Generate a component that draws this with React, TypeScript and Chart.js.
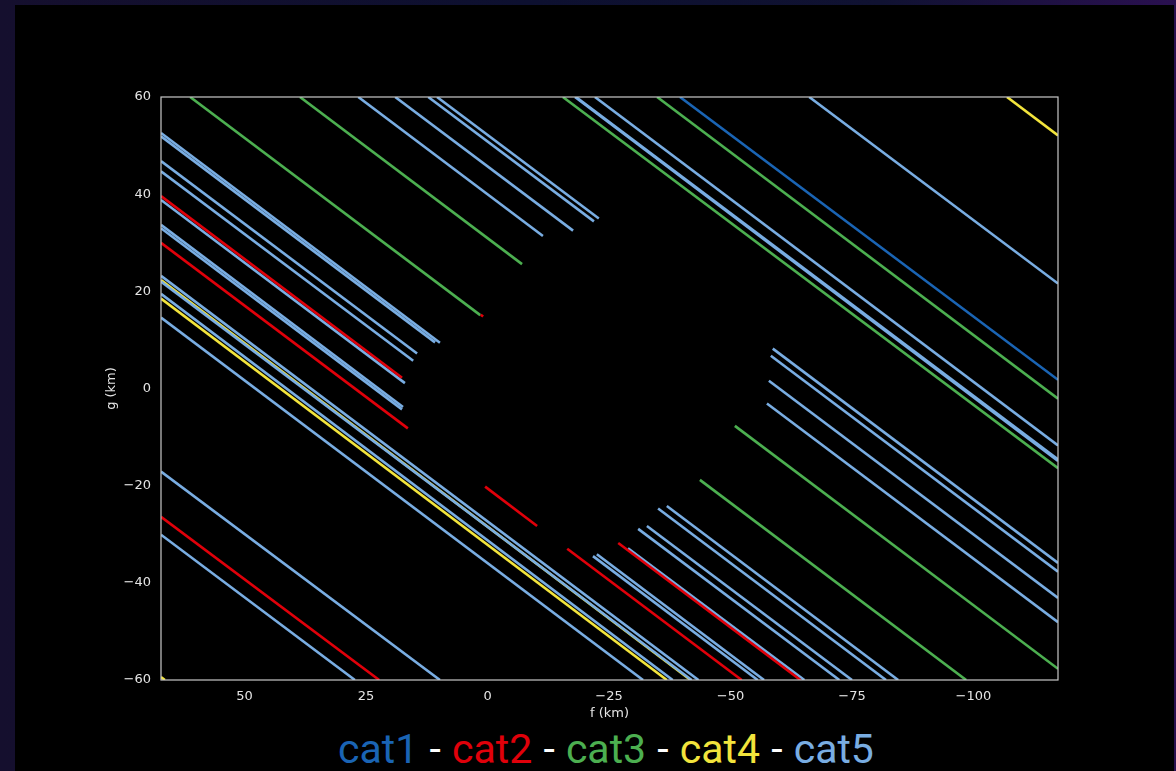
import React, { useEffect, useRef } from "react";
import { Chart, registerables } from "chart.js";

Chart.register(...registerables);

// ---------- data ----------
const categories = ["cat1", "cat2", "cat3", "cat4", "cat5"];
const categoryColors = ["#1a64b4", "#e0000a", "#4caf50", "#f2e43c", "#79ade2"];

const xTicks = [50, 25, 0, -25, -50, -75, -100];
const yTicks = [-60, -40, -20, 0, 20, 40, 60];

// each segment: [f1, g1, f2, g2]  (km)
const cat1Segments = [
  [-39.6, 60, -117.4, 1.8],
];

const cat2Segments = [
  [67.2, 39.6, 17.6, 2.2],
  [67.2, 30.0, 16.4, -8.2],
  [67.2, -26.4, 22.3, -60],
  [0.5, -20.2, -10.2, -28.3],
  [-16.4, -33.0, -52.3, -60],
  [-26.9, -31.8, -64.4, -60],
  [1.4, 15.2, 0.9, 14.8],
];

const cat3Segments = [
  [61.2, 60, 1.5, 15.1],
  [38.6, 60, -7.1, 25.6],
  [-15.5, 60, -117.4, -16.4],
  [-34.9, 60, -117.4, -2.1],
  [-43.7, -18.8, -98.5, -60],
  [-50.9, -7.7, -117.4, -57.7],
];

const cat4Segments = [
  [-106.9, 60, -117.4, 52.1],
  [67.2, 18.5, -36.9, -60],
  [67.2, 22.3, -41.8, -60],
  [67.2, -59.4, 66.4, -60],
];

const cat5Segments = [
  [67.2, 52.6, 9.8, 9.4],
  [67.2, 51.9, 10.8, 9.5],
  [67.2, 46.8, 14.5, 7.2],
  [67.2, 44.7, 15.3, 5.7],
  [67.2, 38.8, 17.0, 1.1],
  [67.2, 33.7, 17.4, -3.8],
  [67.2, 33.0, 17.6, -4.3],
  [67.2, 23.2, -43.4, -60],
  [67.2, 22.0, -42.0, -60],
  [67.2, 19.5, -38.1, -60],
  [67.2, 14.6, -32.0, -60],
  [67.2, -17.1, 9.8, -60],
  [67.2, -30.1, 27.3, -60],
  [26.6, 60, -11.4, 31.4],
  [19.0, 60, -17.6, 32.5],
  [12.2, 60, -21.9, 34.4],
  [10.4, 60, -22.9, 35.0],
  [-18.2, 60, -117.4, -14.6],
  [-18.0, 60, -117.4, -14.9],
  [-22.1, 60, -117.4, -11.7],
  [-66.2, 60, -117.4, 21.6],
  [-58.7, 8.2, -117.4, -35.9],
  [-58.3, 6.75, -117.4, -37.7],
  [-57.9, 1.6, -117.4, -43.1],
  [-57.5, -3.1, -117.4, -48.1],
  [-21.7, -34.5, -55.6, -60],
  [-22.5, -34.1, -56.9, -60],
  [-28.9, -32.9, -65.2, -60],
  [-31.0, -28.9, -72.4, -60],
  [-32.8, -28.3, -75.0, -60],
  [-35.1, -24.7, -82.0, -60],
  [-36.9, -24.2, -84.5, -60],
];

const segmentsByCategory = [cat1Segments, cat2Segments, cat3Segments, cat4Segments, cat5Segments];

const fMin = -117.4;
const fMax = 67.2;
const gMin = -60;
const gMax = 60;

// ---------- chart ----------
const TEXT = "#e4e4e4";
const FRAME = "#c8c8c8";

const framePlugin = {
  id: "frameBox",
  afterDatasetsDraw(chart: any) {
    const { ctx, chartArea } = chart;
    const { left, top, right, bottom } = chartArea;
    ctx.save();
    ctx.strokeStyle = FRAME;
    ctx.lineWidth = 1.2;
    ctx.strokeRect(left, top, right - left, bottom - top);
    ctx.restore();
  },
};

const minus = (v: number) => String(v).replace("-", "\u2212");

export default function App() {
  const ref = useRef<HTMLCanvasElement | null>(null);

  useEffect(() => {
    if (!ref.current) return;
    const datasets: any[] = [];
    segmentsByCategory.forEach((segs, ci) => {
      segs.forEach((s, si) => {
        datasets.push({
          label: `${categories[ci]}-${si}`,
          data: [
            { x: s[0], y: s[1] },
            { x: s[2], y: s[3] },
          ],
          showLine: true,
          borderColor: categoryColors[ci],
          backgroundColor: categoryColors[ci],
          borderWidth: 2.6,
          pointRadius: 0,
          pointHoverRadius: 0,
          fill: false,
          order: ci === 1 ? 0 : 5 - ci,
        });
      });
    });

    const chart = new Chart(ref.current, {
      type: "scatter",
      data: { datasets },
      options: {
        responsive: false,
        animation: false,
        events: [],
        layout: { padding: { left: 85, top: 92, right: 116, bottom: 0 } },
        plugins: {
          legend: { display: false },
          tooltip: { enabled: false },
        },
        scales: {
          x: {
            type: "linear",
            reverse: true,
            min: fMin,
            max: fMax,
            afterFit: (s: any) => {
              s.height = 45;
            },
            afterBuildTicks: (s: any) => {
              s.ticks = xTicks.map((v) => ({ value: v }));
            },
            grid: { display: false, drawTicks: false, tickLength: 0 },
            border: { display: false },
            ticks: {
              color: TEXT,
              font: { family: "DejaVu Sans", size: 13 },
              padding: 9,
              maxRotation: 0,
              autoSkip: false,
              callback: (v: any) => minus(v),
            },
            title: {
              display: true,
              text: "f (km)",
              color: TEXT,
              font: { family: "DejaVu Sans", size: 13 },
            },
          },
          y: {
            type: "linear",
            min: gMin,
            max: gMax,
            afterFit: (s: any) => {
              s.width = 61;
            },
            afterBuildTicks: (s: any) => {
              s.ticks = yTicks.map((v) => ({ value: v }));
            },
            grid: { display: false, drawTicks: false, tickLength: 0 },
            border: { display: false },
            ticks: {
              color: TEXT,
              font: { family: "DejaVu Sans", size: 13 },
              padding: 10,
              autoSkip: false,
              callback: (v: any) => minus(v),
            },
            title: {
              display: true,
              text: "g (km)",
              color: TEXT,
              font: { family: "DejaVu Sans", size: 13 },
            },
          },
        },
      },
      plugins: [framePlugin],
    });
    return () => chart.destroy();
  }, []);

  return (
    <div
      style={{
        position: "fixed",
        inset: 0,
        overflow: "hidden",
        background: "linear-gradient(90deg, #150f2e 0%, #0d1030 45%, #101232 75%, #2a1050 100%)",
      }}
    >
      <div
        style={{
          position: "absolute",
          left: 15,
          top: 5,
          width: 1159,
          height: 800,
          background: "#000",
        }}
      >
        <canvas ref={ref} width={1159} height={720} style={{ position: "absolute", left: 0, top: 0, width: 1159, height: 720 }} />
        <div
          style={{
            position: "absolute",
            left: 591,
            top: 724,
            transform: "translateX(-50%)",
            whiteSpace: "nowrap",
            fontFamily: "Roboto, 'Noto Sans', sans-serif",
            fontWeight: 400,
            fontSize: 41,
            lineHeight: "40px",
            wordSpacing: 1,
          }}
        >
          {categories.map((c, i) => (
            <React.Fragment key={c}>
              {i > 0 && <span style={{ color: "#ffffff" }}> - </span>}
              <span style={{ color: categoryColors[i] }}>{c}</span>
            </React.Fragment>
          ))}
        </div>
      </div>
    </div>
  );
}
